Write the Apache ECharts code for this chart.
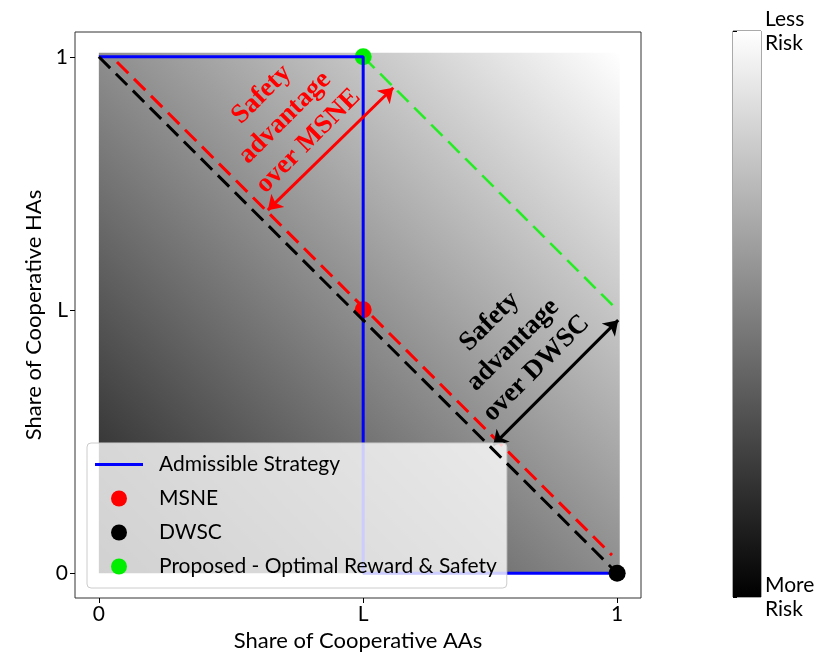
<!DOCTYPE html>
<html>
<head>
<meta charset="utf-8">
<script src="https://cdn.jsdelivr.net/npm/echarts@6/dist/echarts.min.js"></script>
<style>
  html, body { margin: 0; padding: 0; background: #fff; }
  #chart { width: 830px; height: 664px; }
</style>
</head>
<body>
<div id="chart"></div>
<script>
// the "L" point
var L = 0.51;

var tickValues = [0, L, 1];
var tickNames = ['0', 'L', '1'];

var admissible = [[0, 1], [L, 1], [L, 0], [1, 0]];
var dwscLine = [[0, 1], [1, 0]];
var msneLine = [[0.035, 0.99], [0.99, 0.035]];
var proposedLine = [[L, 1], [1, L]];

var msnePoint = [[L, L]];
var dwscPoint = [[1, 0]];
var proposedPoint = [[L, 1]];

// background field extent [x0, y0, x1, y1]
var riskField = [[0, 0, 1.005, 1.008]];

var msneArrow = [[0.326, 0.703], [0.568, 0.94]];
var dwscArrow = [[0.761, 0.248], [1.002, 0.49]];

var msneNote = [[0.359, 0.882, 'Safety\nadvantage\nover MSNE']];
var dwscNote = [[0.799, 0.442, 'Safety\nadvantage\nover DWSC']];

var colorbarLabels = ['More\nRisk', 'Less\nRisk'];

var sans = 'Lato';
var dash = [16, 8];

var dom = document.getElementById('chart');
var myChart = echarts.init(dom);

function fieldItem(params, api) {
    var p0 = api.coord([api.value(0), api.value(1)]);
    var p1 = api.coord([api.value(2), api.value(3)]);
    return {
        type: 'rect',
        shape: { x: p0[0], y: p1[1], width: p1[0] - p0[0], height: p0[1] - p1[1] },
        style: {
            fill: new echarts.graphic.LinearGradient(0, 1, 1, 0, [
                { offset: 0, color: '#1c1c1c' },
                { offset: 0.5, color: '#8e8e8e' },
                { offset: 1, color: '#ffffff' }
            ])
        }
    };
}

function barItem(params, api) {
    var p0 = api.coord([api.value(0), api.value(1)]);
    var p1 = api.coord([api.value(2), api.value(3)]);
    return {
        type: 'rect',
        shape: { x: p0[0], y: p1[1], width: p1[0] - p0[0], height: p0[1] - p1[1] },
        style: {
            fill: new echarts.graphic.LinearGradient(0, 1, 0, 0, [
                { offset: 0, color: '#000000' },
                { offset: 1, color: '#ffffff' }
            ])
        }
    };
}

function noteItem(color) {
    return function (params, api) {
        var p = api.coord([api.value(0), api.value(1)]);
        return {
            type: 'text',
            x: p[0],
            y: p[1],
            rotation: Math.PI / 4,
            style: {
                text: api.value(2),
                fill: color,
                font: 'bold 27px "Liberation Serif", serif',
                lineHeight: 33,
                align: 'center',
                verticalAlign: 'middle'
            }
        };
    };
}

var option = {
    animation: false,
    backgroundColor: '#fff',
    grid: [
        {
            left: 75, top: 32, width: 566, height: 566,
            show: true, borderColor: '#333', borderWidth: 1,
            outerBoundsMode: 'none'
        },
        {
            left: 733, top: 31, width: 28, height: 566,
            show: true, borderColor: '#555', borderWidth: 1,
            outerBoundsMode: 'none'
        }
    ],
    xAxis: [
        {
            gridIndex: 0, type: 'value', min: -0.046, max: 1.046,
            name: 'Share of Cooperative AAs', nameLocation: 'middle', nameGap: 27,
            nameTextStyle: { fontFamily: sans, fontSize: 22, color: '#000' },
            axisLine: { show: false, onZero: false },
            splitLine: { show: false },
            axisTick: { show: true, length: 5, customValues: tickValues, lineStyle: { color: '#000' } },
            axisLabel: {
                customValues: tickValues, margin: 6,
                fontFamily: sans, fontSize: 21, color: '#000',
                formatter: function (v) { return tickNames[tickValues.indexOf(v)]; }
            }
        },
        { gridIndex: 1, type: 'value', min: 0, max: 1, show: false }
    ],
    yAxis: [
        {
            gridIndex: 0, type: 'value', min: -0.048, max: 1.048,
            name: 'Share of Cooperative HAs', nameLocation: 'middle', nameGap: 26, nameRotate: 90,
            nameTextStyle: { fontFamily: sans, fontSize: 22, color: '#000' },
            axisLine: { show: false, onZero: false },
            splitLine: { show: false },
            axisTick: { show: true, length: 5, customValues: tickValues, lineStyle: { color: '#000' } },
            axisLabel: {
                customValues: tickValues, margin: 7,
                fontFamily: sans, fontSize: 21, color: '#000',
                formatter: function (v) { return tickNames[tickValues.indexOf(v)]; }
            }
        },
        {
            gridIndex: 1, type: 'value', min: 0, max: 1, position: 'right',
            axisLine: { show: false },
            splitLine: { show: false },
            axisTick: { show: true, length: 4, customValues: [0, 1], lineStyle: { color: '#000' } },
            axisLabel: {
                customValues: [0, 1], margin: 4,
                fontFamily: sans, fontSize: 21, lineHeight: 24, color: '#000', align: 'left',
                formatter: function (v) { return colorbarLabels[v]; }
            }
        }
    ],
    legend: {
        left: 87, top: 443, orient: 'vertical', z: 10,
        padding: [11, 10, 11, 8],
        itemWidth: 48, itemHeight: 16, itemGap: 13,
        backgroundColor: 'rgba(255,255,255,0.8)',
        borderColor: '#cccccc', borderWidth: 1, borderRadius: 4,
        textStyle: { fontFamily: sans, fontSize: 21, color: '#000', padding: [0, 0, 0, 11] },
        data: [
            { name: 'Admissible Strategy', icon: 'path://M0,0L48,0L48,3L0,3Z' },
            'MSNE', 'DWSC', 'Proposed - Optimal Reward & Safety'
        ]
    },
    series: [
        {
            type: 'custom', xAxisIndex: 0, yAxisIndex: 0, z: 0, silent: true,
            renderItem: fieldItem, data: riskField
        },
        {
            type: 'custom', xAxisIndex: 1, yAxisIndex: 1, z: 0, silent: true,
            renderItem: barItem, data: [[0, 0, 1, 1]]
        },
        {
            type: 'line', z: 11, symbol: 'none', silent: true,
            lineStyle: { color: '#000', width: 3, type: dash },
            data: dwscLine
        },
        {
            type: 'line', z: 2, symbol: 'none', silent: true,
            lineStyle: { color: '#ff0000', width: 3, type: dash },
            data: msneLine
        },
        {
            type: 'line', z: 2, symbol: 'none', silent: true,
            lineStyle: { color: '#22ee22', width: 2.5, type: dash },
            data: proposedLine
        },
        {
            name: 'MSNE', type: 'scatter', z: 3, symbol: 'circle', symbolSize: 17,
            itemStyle: { color: '#ff0000', opacity: 1 },
            data: msnePoint
        },
        {
            name: 'Proposed - Optimal Reward & Safety', type: 'scatter', z: 3, symbol: 'circle', symbolSize: 17,
            itemStyle: { color: '#00ee00', opacity: 1 },
            data: proposedPoint
        },
        {
            name: 'Admissible Strategy', type: 'line', z: 4, symbol: 'none',
            lineStyle: { color: '#0000ff', width: 3 },
            itemStyle: { color: '#0000ff' },
            data: admissible
        },
        {
            name: 'DWSC', type: 'scatter', z: 5, symbol: 'circle', symbolSize: 17,
            itemStyle: { color: '#000000', opacity: 1 },
            data: dwscPoint
        },
        {
            type: 'lines', coordinateSystem: 'cartesian2d', z: 5, silent: true,
            symbol: ['arrow', 'arrow'], symbolSize: 14,
            lineStyle: { color: '#ff0000', width: 3, opacity: 1 },
            data: [{ coords: msneArrow }]
        },
        {
            type: 'lines', coordinateSystem: 'cartesian2d', z: 5, silent: true,
            symbol: ['arrow', 'arrow'], symbolSize: 14,
            lineStyle: { color: '#000000', width: 3, opacity: 1 },
            data: [{ coords: dwscArrow }]
        },
        {
            type: 'custom', z: 6, silent: true,
            renderItem: noteItem('#ff0000'), data: msneNote
        },
        {
            type: 'custom', z: 6, silent: true,
            renderItem: noteItem('#000000'), data: dwscNote
        }
    ]
};

if (option && typeof option === 'object') {
    myChart.setOption(option, true);
}
</script>
</body>
</html>
